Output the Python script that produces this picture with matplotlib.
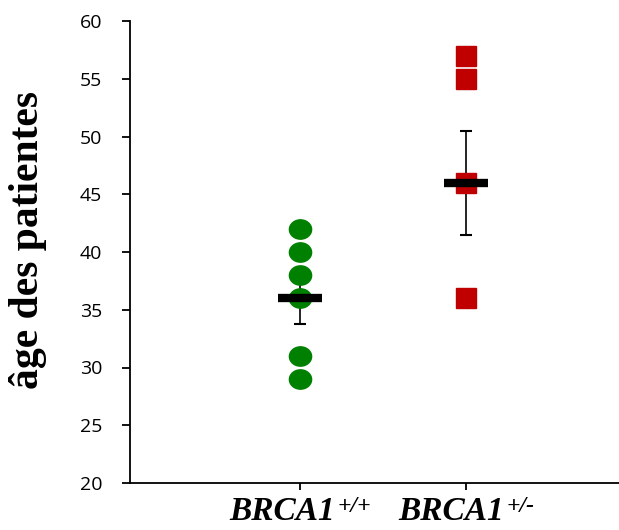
import numpy as np
import matplotlib
matplotlib.use("Agg")
import matplotlib.pyplot as plt
from matplotlib.path import Path
from matplotlib.offsetbox import TextArea, HPacker, AnnotationBbox

# data
gene = 'BRCA1'
genotypes = ['+/+', '+/-']
ages_wt = [29, 31, 36, 38, 40, 42]
ages_het = [36, 46, 55, 57]
means = [36, 46]
errors = [2.25, 4.5]
yticks = [20, 25, 30, 35, 40, 45, 50, 55, 60]

# slightly wide ellipse for the green points
t = np.linspace(0, 2 * np.pi, 60)
ellipse = Path(np.column_stack([1.15 * np.cos(t), np.sin(t)]), closed=True)

fig = plt.figure(figsize=(6.19, 5.30), dpi=100)
ax = fig.add_axes([130 / 619, (530 - 483) / 530, 489 / 619, 462 / 530])

ax.errorbar([1, 2], means, yerr=errors, fmt='none', ecolor='black',
            elinewidth=1.2, capsize=4.3, capthick=1.5, zorder=2)

ax.plot([1] * len(ages_wt), ages_wt, linestyle='none', marker=ellipse,
        markersize=16, color='#008000', zorder=3)
ax.plot([2] * len(ages_het), ages_het, linestyle='none', marker='s',
        markersize=15, color='#c00000', zorder=3)

ax.plot([1, 2], means, linestyle='none', marker='_', markersize=32,
        markeredgewidth=6, color='black', zorder=4)

ax.set_xlim(-0.024, 2.92)
ax.set_ylim(20, 60)
ax.set_yticks(yticks)
ax.set_xticks([1, 2])
ax.set_xticklabels([])

for s in ['top', 'right']:
    ax.spines[s].set_visible(False)
for s in ['left', 'bottom']:
    ax.spines[s].set_linewidth(1.3)

ax.tick_params(axis='y', direction='out', length=6, width=1.3, pad=14,
               labelsize=14)
ax.tick_params(axis='x', direction='out', length=5, width=1.3)
for lab in ax.get_yticklabels():
    lab.set_family('Open Sans')

# x labels: gene name with superscript genotype
lab_font = dict(family='Liberation Serif', weight='bold', style='italic')
for x, gt in zip([1, 2], genotypes):
    main = TextArea(gene, textprops=dict(fontsize=24, **lab_font))
    sup = TextArea(gt, textprops=dict(fontsize=17, **lab_font))
    box = HPacker(children=[main, sup], align='top', pad=0, sep=2)
    ab = AnnotationBbox(box, (x, 0), xycoords=('data', 'axes fraction'),
                        xybox=(0, -9), boxcoords='offset points',
                        box_alignment=(0.5, 1), frameon=False,
                        annotation_clip=False)
    ax.add_artist(ab)

fig.text(28 / 619, 1 - 240 / 530, 'âge des patientes', family='Liberation Serif',
         fontweight='bold', fontsize=30, rotation=90, ha='center', va='center')

fig.savefig('out.png', dpi=100)
